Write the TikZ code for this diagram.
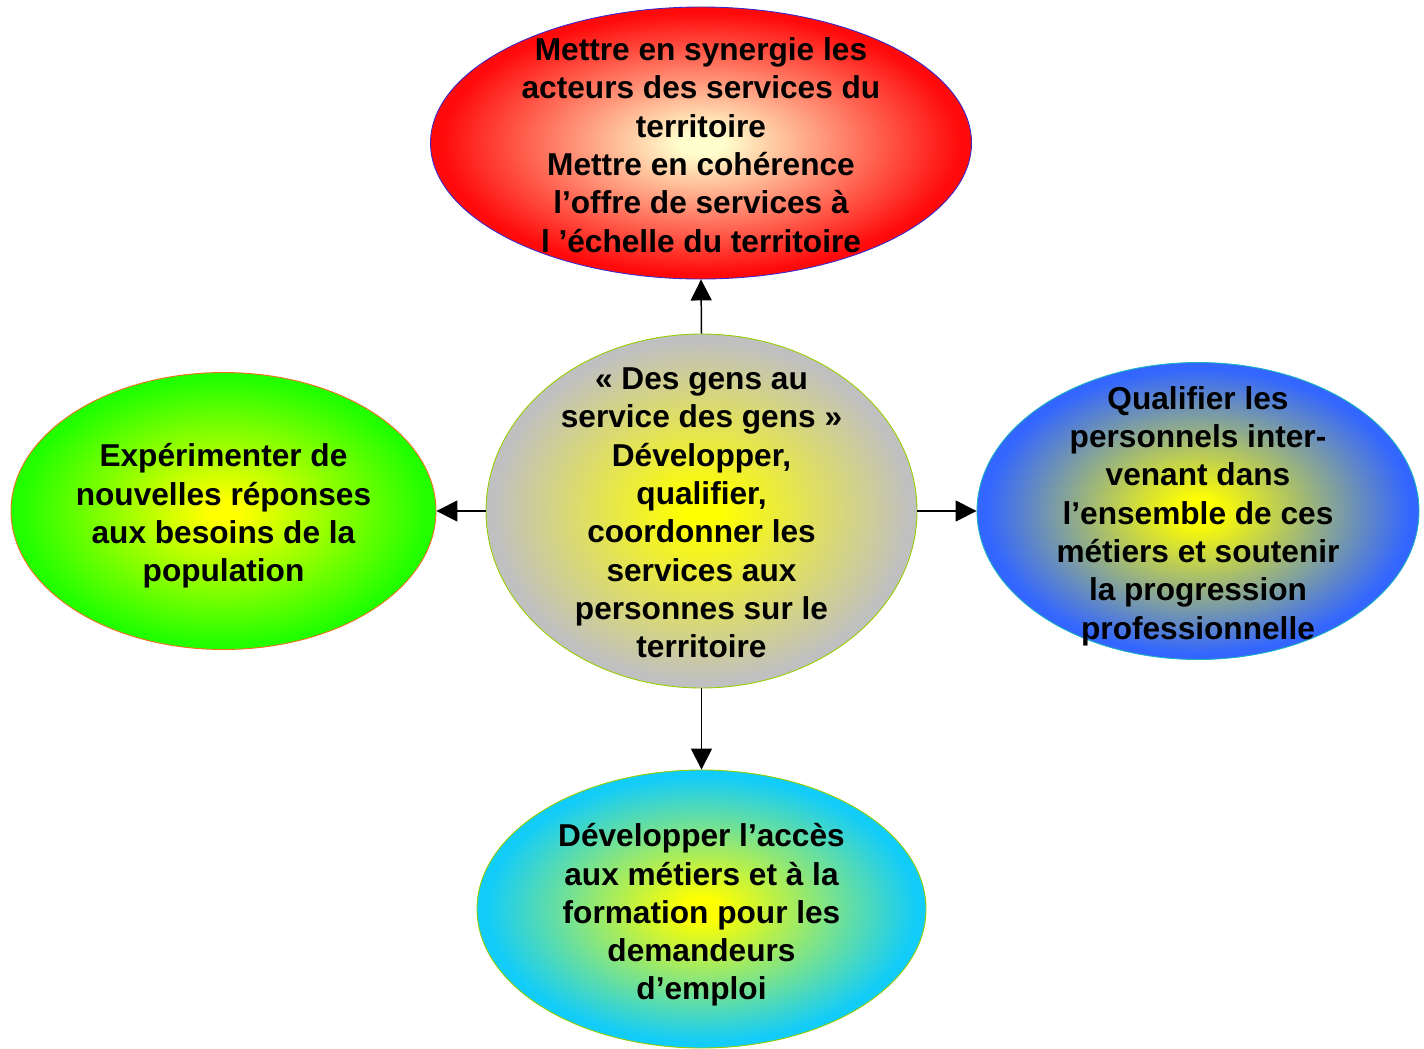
\documentclass[tikz,border=0pt]{standalone}
\usepackage{fontspec}
\setmainfont{Liberation Sans}
\usepackage{xcolor}
\usepackage{tikz}
\usetikzlibrary{positioning,arrows.meta,shapes.geometric}

\colorlet{glowin}{yellow}
\colorlet{glowout}{gray}
\pgfdeclareradialshading[glowin,glowout]{glow}{\pgfpoint{0bp}{0bp}}{color(0bp)=(glowin); color(2bp)=(glowin); color(24bp)=(glowout); color(50bp)=(glowout)}

\definecolor{bubred}{RGB}{255,10,10}
\definecolor{bubcream}{RGB}{255,255,205}
\definecolor{bubgreen}{RGB}{34,255,0}
\definecolor{bubblue}{RGB}{51,102,255}
\definecolor{bubcyan}{RGB}{18,204,250}
\definecolor{bubgray}{RGB}{192,192,192}
\definecolor{edgeblue}{RGB}{60,40,200}
\definecolor{edgeorange}{RGB}{240,110,30}
\definecolor{edgelime}{RGB}{150,205,0}
\definecolor{edgeteal}{RGB}{30,180,190}

\begin{document}
\begin{tikzpicture}[
    bubble/.style={ellipse, inner sep=0pt, line width=0.5pt, shading=glow},
    glowin/.code={\colorlet{glowin}{#1}},
    glowout/.code={\colorlet{glowout}{#1}},
    bubtext/.style={align=center, inner sep=0pt, yshift=-0.1cm, font=\bfseries\fontsize{18}{21.8}\selectfont},
    arrow/.style={-{Triangle[length=0.42cm, width=0.42cm]}, line width=0.85pt},
]
\useasboundingbox (0,0) rectangle (28.48,-20.98);

% --- CENTRE ---
\node[bubble, draw=edgelime, glowin=yellow, glowout=bubgray, minimum width=8.62cm, minimum height=7.08cm] (ctr) at (14.03, -10.22) {};
\node[bubtext, yshift=0.06cm] (ctrT) at (ctr) {« Des gens au\\service des gens »\\Développer,\\qualifier,\\coordonner les\\services aux\\personnes sur le\\territoire};

% --- TOP ---
\node[bubble, draw=edgeblue, glowin=bubcream, glowout=bubred, minimum width=10.82cm, minimum height=5.44cm] (top) at (14.02, -2.86) {};
\node[bubtext, yshift=0.06cm] (topT) at (top) {Mettre en synergie les\\acteurs des services du\\territoire\\Mettre en cohérence\\l’offre de services à\\l ’échelle du territoire};

% --- LEFT ---
\node[bubble, draw=edgeorange, glowin=yellow, glowout=bubgreen, minimum width=8.5cm, minimum height=5.54cm] (left) at (4.47, -10.22) {};
\node[bubtext] (leftT) at (left) {Expérimenter de\\nouvelles réponses\\aux besoins de la\\population};

% --- RIGHT ---
\node[bubble, draw=edgeteal, glowin=yellow, glowout=bubblue, minimum width=8.84cm, minimum height=5.94cm] (right) at (23.96, -10.22) {};
\node[bubtext] (rightT) at (right) {Qualifier les\\personnels inter-\\venant dans\\l’ensemble de ces\\métiers et soutenir\\la progression\\professionnelle};

% --- BOTTOM ---
\node[bubble, draw=edgelime, glowin=yellow, glowout=bubcyan, minimum width=8.98cm, minimum height=5.56cm] (bot) at (14.03, -18.18) {};
\node[bubtext, yshift=-0.02cm] (botT) at (bot) {Développer l’accès\\aux métiers et à la\\formation pour les\\demandeurs\\d’emploi};

% --- ARROWS ---
\draw[arrow] (ctr.north) -- (top.south);
\draw[arrow] (ctr.west) -- (left.east);
\draw[arrow] (ctr.east) -- (right.west);
\draw[arrow] (ctr.south) -- (bot.north);

\end{tikzpicture}
\end{document}
